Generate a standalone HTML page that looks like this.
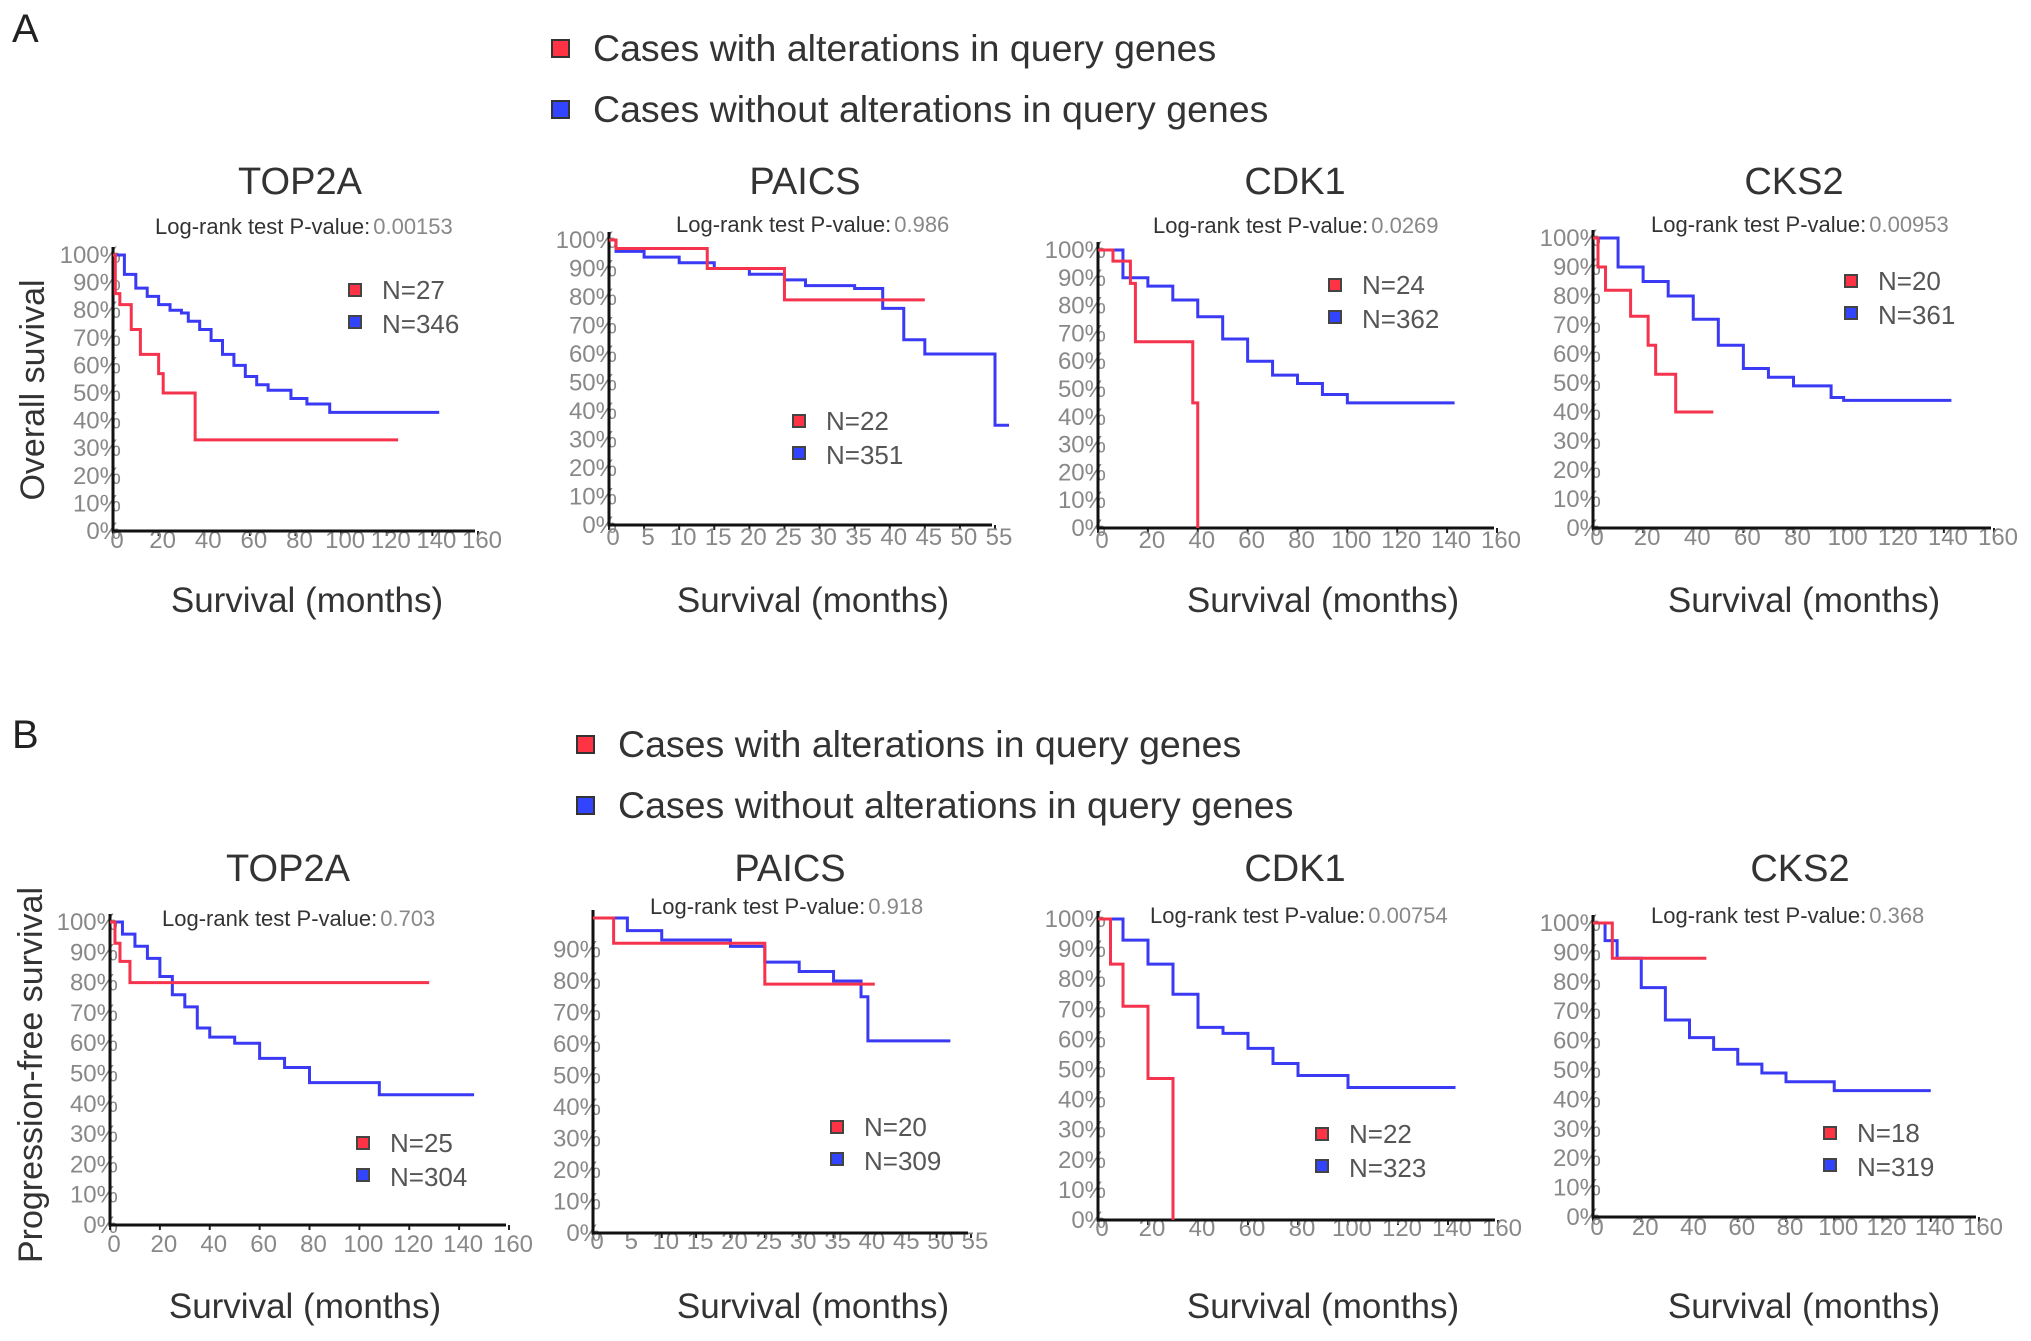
<!DOCTYPE html>
<html><head><meta charset="utf-8">
<style>
html,body{margin:0;padding:0;background:#fff;}
svg{display:block;font-family:"Liberation Sans",Arial,sans-serif;}
</style></head>
<body>
<svg id="fig" width="2031" height="1341" viewBox="0 0 2031 1341" xmlns="http://www.w3.org/2000/svg">
<text x="12" y="42" font-size="40" fill="#222">A</text>
<text x="12" y="748" font-size="40" fill="#222">B</text>
<g>
<rect x="552" y="40" width="17" height="17" fill="#ff3344" stroke="#333" stroke-width="2"/>
<text x="593" y="61" font-size="37.5" fill="#333">Cases with alterations in query genes</text>
<rect x="552" y="101" width="17" height="17" fill="#3344ff" stroke="#333" stroke-width="2"/>
<text x="593" y="122" font-size="37.5" fill="#333">Cases without alterations in query genes</text>
</g>
<g>
<rect x="577" y="736" width="17" height="17" fill="#ff3344" stroke="#333" stroke-width="2"/>
<text x="618" y="757" font-size="37.5" fill="#333">Cases with alterations in query genes</text>
<rect x="577" y="797" width="17" height="17" fill="#3344ff" stroke="#333" stroke-width="2"/>
<text x="618" y="818" font-size="37.5" fill="#333">Cases without alterations in query genes</text>
</g>
<text transform="translate(44,390) rotate(-90)" text-anchor="middle" font-size="34" fill="#333">Overall suvival</text>
<text transform="translate(42,1075) rotate(-90)" text-anchor="middle" font-size="34" fill="#333">Progression-free survival</text>
</svg>
<script>
// ---- data: [months] and [survival %] for each series ----
const osTop2aAltT = [0,1,3,8,12,20,22,36,125];
const osTop2aAltS = [100,86,82,73,64,57,50,33,33];
const osTop2aUnT = [0,5,10,15,20,25,30,33,38,43,48,53,58,63,68,78,85,95,143];
const osTop2aUnS = [100,93,88,85,82,80,79,76,73,69,64,60,56,53,51,48,46,43,43];
const osPaicsAltT = [0,1,14,25,45];
const osPaicsAltS = [100,97,90,79,79];
const osPaicsUnT = [0,1,5,10,15,20,25,28,35,39,42,45,52,55,57];
const osPaicsUnS = [100,96,94,92,90,88,86,84,83,76,65,60,60,35,35];
const osCdk1AltT = [0,6,13,15,38,40];
const osCdk1AltS = [100,96,88,67,45,0];
const osCdk1UnT = [0,10,20,30,40,50,60,70,80,90,100,143];
const osCdk1UnS = [100,90,87,82,76,68,60,55,52,48,45,45];
const osCks2AltT = [0,2,5,15,22,25,33,48];
const osCks2AltS = [100,90,82,73,63,53,40,40];
const osCks2UnT = [0,10,20,30,40,50,60,70,80,95,100,143];
const osCks2UnS = [100,90,85,80,72,63,55,52,49,45,44,44];
const pfsTop2aAltT = [0,2,4,8,128];
const pfsTop2aAltS = [100,93,87,80,80];
const pfsTop2aUnT = [0,5,10,15,20,25,30,35,40,50,60,70,80,100,108,146];
const pfsTop2aUnS = [100,96,92,88,82,76,72,65,62,60,55,52,47,47,43,43];
const pfsPaicsAltT = [0,3,25,41];
const pfsPaicsAltS = [100,92,79,79];
const pfsPaicsUnT = [0,5,10,20,25,30,35,39,40,52];
const pfsPaicsUnS = [100,96,93,91,86,83,80,75,61,61];
const pfsCdk1AltT = [0,5,10,20,30];
const pfsCdk1AltS = [100,85,71,47,0];
const pfsCdk1UnT = [0,10,20,30,40,50,60,70,80,100,143];
const pfsCdk1UnS = [100,93,85,75,64,62,57,52,48,44,44];
const pfsCks2AltT = [0,8,47];
const pfsCks2AltS = [100,88,88];
const pfsCks2UnT = [0,5,10,20,30,40,50,60,70,80,100,140];
const pfsCks2UnS = [100,94,88,78,67,61,57,52,49,46,43,43];
const genes = ["TOP2A","PAICS","CDK1","CKS2","TOP2A","PAICS","CDK1","CKS2"];
const pValues = ["0.00153","0.986","0.0269","0.00953","0.703","0.918","0.00754","0.368"];
const nAltered = [27,22,24,20,25,20,22,18];
const nUnaltered = [346,351,362,361,304,309,323,319];
const yTicks = [0,10,20,30,40,50,60,70,80,90,100];
const xTicksLong = [0,20,40,60,80,100,120,140,160];
const xTicksShort = [0,5,10,15,20,25,30,35,40,45,50,55];

const alt = [[osTop2aAltT,osTop2aAltS],[osPaicsAltT,osPaicsAltS],[osCdk1AltT,osCdk1AltS],[osCks2AltT,osCks2AltS],
  [pfsTop2aAltT,pfsTop2aAltS],[pfsPaicsAltT,pfsPaicsAltS],[pfsCdk1AltT,pfsCdk1AltS],[pfsCks2AltT,pfsCks2AltS]];
const un = [[osTop2aUnT,osTop2aUnS],[osPaicsUnT,osPaicsUnS],[osCdk1UnT,osCdk1UnS],[osCks2UnT,osCks2UnS],
  [pfsTop2aUnT,pfsTop2aUnS],[pfsPaicsUnT,pfsPaicsUnS],[pfsCdk1UnT,pfsCdk1UnS],[pfsCks2UnT,pfsCks2UnS]];

// layout (pixels)
const L = [
 {x0:113,x1:478,xmax:160,yT:255,yB:531,title:[300,194],pv:[155,234],nl:[355,290],xt:612,xc:307,lab:548,short:false,yl:true},
 {x0:609,x1:995,xmax:55,yT:240,yB:525,title:[805,194],pv:[676,232],nl:[799,421],xt:612,xc:813,lab:545,short:true,yl:true},
 {x0:1098,x1:1497,xmax:160,yT:250,yB:528,title:[1295,194],pv:[1153,233],nl:[1335,285],xt:612,xc:1323,lab:548,short:false,yl:true},
 {x0:1593,x1:1994,xmax:160,yT:238,yB:528,title:[1794,194],pv:[1651,232],nl:[1851,281],xt:612,xc:1804,lab:545,short:false,yl:true},
 {x0:110,x1:509,xmax:160,yT:922,yB:1225,title:[288,881],pv:[162,926],nl:[363,1143],xt:1318,xc:305,lab:1252,short:false,yl:true},
 {x0:593,x1:971,xmax:55,yT:918,yB:1233,title:[790,881],pv:[650,914],nl:[837,1127],xt:1318,xc:813,lab:1249,short:true,yl:false},
 {x0:1098,x1:1498,xmax:160,yT:919,yB:1220,title:[1295,881],pv:[1150,923],nl:[1322,1134],xt:1318,xc:1323,lab:1236,short:false,yl:true},
 {x0:1593,x1:1979,xmax:160,yT:923,yB:1217,title:[1800,881],pv:[1651,923],nl:[1830,1133],xt:1318,xc:1804,lab:1235,short:false,yl:true}
];
const NS="http://www.w3.org/2000/svg";
const svg=document.getElementById('fig');
function mk(tag,attrs,parent,txt){const e=document.createElementNS(NS,tag);for(const k in attrs)e.setAttribute(k,attrs[k]);if(txt!==undefined)e.textContent=txt;parent.appendChild(e);return e;}
function stepPath(ts,ss,sx,sy){let d='M'+sx(ts[0])+','+sy(ss[0]);for(let i=1;i<ts.length;i++){d+=' H'+sx(ts[i])+' V'+sy(ss[i]);}return d;}

L.forEach((c,i)=>{
  const g=mk('g',{},svg);
  
  
  const sx=v=>c.x0+(c.x1-c.x0)*v/c.xmax;
  const sy=v=>c.yB-(c.yB-c.yT)*v/100;
  const t=mk('text',{x:c.title[0],y:c.title[1],'text-anchor':'middle','font-size':38,fill:'#333'},g,genes[i]);
  
  
  const pv=mk('text',{x:c.pv[0],y:c.pv[1],'font-size':22,fill:'#333'},g);
  
  
  mk('tspan',{},pv,'Log-rank test P-value:');
  mk('tspan',{fill:'#888','dx':3},pv,pValues[i]);
  yTicks.forEach(v=>{
    if(!c.yl && v===100) return;
    const yl=mk('text',{x:c.x0+8,y:sy(v)+8,'text-anchor':'end','font-size':24,fill:'#888'},g,v+'%');
    
    
  });
  const xt=c.short?xTicksShort:xTicksLong;
  xt.forEach(v=>{
    mk('line',{x1:sx(v),x2:sx(v),y1:c.yB,y2:c.yB+5,stroke:'#222','stroke-width':2},g);
    const xl=mk('text',{x:sx(v)+4,y:c.lab,'text-anchor':'middle','font-size':24,fill:'#888'},g,String(v));
    
    
  });
  const ax=mk('path',{d:'M'+c.x0+','+(c.yT-8)+' V'+c.yB+' H'+(c.x1-3),stroke:'#111','stroke-width':3,fill:'none'},g);
  
  
  const xtl=mk('text',{x:c.xc,y:c.xt,'text-anchor':'middle','font-size':35,fill:'#333'},g,'Survival (months)');
  
  
  const pu=mk('path',{d:stepPath(un[i][0],un[i][1],sx,sy),stroke:'#3a3af5','stroke-width':3,fill:'none'},g);
  
  
  const pa=mk('path',{d:stepPath(alt[i][0],alt[i][1],sx,sy),stroke:'#f5334d','stroke-width':3,fill:'none'},g);
  
  
  const r1=mk('rect',{x:c.nl[0]-6,y:c.nl[1]-6,width:12,height:12,fill:'#ff3344',stroke:'#444','stroke-width':2},g);
  
  
  const n1=mk('text',{x:c.nl[0]+27,y:c.nl[1]+9,'font-size':26,fill:'#555'},g,'N='+nAltered[i]);
  
  
  const r2=mk('rect',{x:c.nl[0]-6,y:c.nl[1]+26,width:12,height:12,fill:'#3344ff',stroke:'#444','stroke-width':2},g);
  
  
  const n2=mk('text',{x:c.nl[0]+27,y:c.nl[1]+43,'font-size':26,fill:'#555'},g,'N='+nUnaltered[i]);
  
  
});
</script>
</body></html>
